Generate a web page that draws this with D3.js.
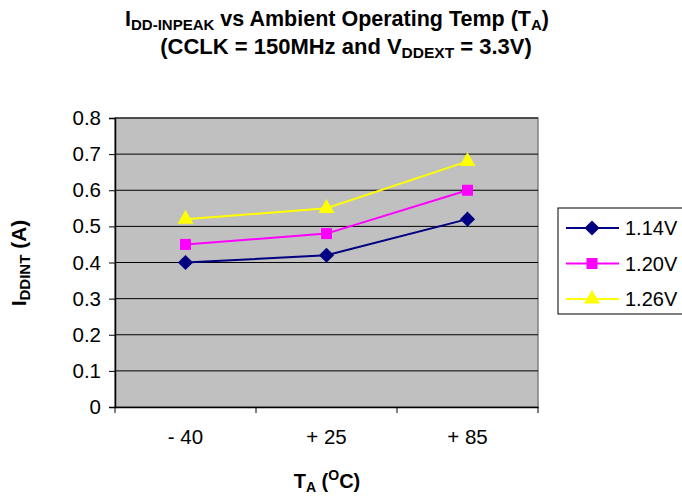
<!DOCTYPE html>
<html><head><meta charset="utf-8">
<script src="https://cdn.jsdelivr.net/npm/d3@7"></script>
<style>body{margin:0;background:#fff;} text{font-family:"Liberation Sans",Arial,sans-serif;}</style>
</head><body><svg id="c" width="682" height="498"></svg>
<script>
const categories = ["- 40", "+ 25", "+ 85"];
const seriesNames = ["1.14V", "1.20V", "1.26V"];
const v114 = [0.40, 0.42, 0.52];
const v120 = [0.45, 0.48, 0.60];
const v126 = [0.52, 0.55, 0.68];
const yTicks = [0, 0.1, 0.2, 0.3, 0.4, 0.5, 0.6, 0.7, 0.8];

const series = [
  {name: seriesNames[0], values: v114, color: "#000080", shape: d3.symbolSquare, size: 115, rot: 45},
  {name: seriesNames[1], values: v120, color: "#FF00FF", shape: d3.symbolSquare, size: 121, rot: 0},
  {name: seriesNames[2], values: v126, color: "#FFFF00", shape: d3.symbolTriangle, size: 110, rot: 0}
];

const svg = d3.select("#c");
const L = 115, R = 538, T = 118, B = 407;
const x = d3.scaleBand().domain(categories).range([L, R]);
const y = d3.scaleLinear().domain([0, 0.8]).range([B, T]);

svg.append("rect").attr("x", L).attr("y", T).attr("width", R - L).attr("height", B - T)
  .attr("fill", "#C0C0C0").attr("stroke", "#808080").attr("stroke-width", 1.5);

svg.append("g").selectAll("line").data(yTicks.filter(d => d > 0)).join("line")
  .attr("x1", L).attr("x2", R).attr("y1", d => y(d)).attr("y2", d => y(d))
  .attr("stroke", "#000").attr("stroke-width", 1);

const ya = svg.append("g").attr("transform", `translate(${L},0)`)
  .call(d3.axisLeft(y).tickValues(yTicks).tickFormat(d => d === 0 ? "0" : d3.format(".1f")(d)).tickSize(6).tickPadding(8));
ya.select(".domain").attr("stroke", "#000").attr("stroke-width", 1.5);
ya.selectAll(".tick line").attr("stroke", "#000");
ya.selectAll("text").attr("font-size", 20.5).attr("fill", "#000").style("font-family", "Liberation Sans, Arial, sans-serif");

const xa = svg.append("g").attr("transform", `translate(0,${B})`)
  .call(d3.axisBottom(x).tickSize(0).tickPadding(22));
xa.select(".domain").attr("stroke", "#000").attr("stroke-width", 1.5);
xa.selectAll("text").attr("font-size", 20.5).attr("fill", "#000").style("font-family", "Liberation Sans, Arial, sans-serif");
const bounds = categories.map(c => x(c)).concat([R]);
svg.append("g").selectAll("line").data(bounds).join("line")
  .attr("x1", d => d).attr("x2", d => d).attr("y1", B).attr("y2", B + 6)
  .attr("stroke", "#000").attr("stroke-width", 1);

const cx = c => x(c) + x.bandwidth() / 2;
const line = d3.line().x((d, i) => cx(categories[i])).y(d => y(d));

series.forEach(s => {
  svg.append("path").datum(s.values).attr("d", line).attr("fill", "none")
    .attr("stroke", s.color).attr("stroke-width", 2);
  svg.append("g").selectAll("path").data(s.values).join("path")
    .attr("d", d3.symbol().type(s.shape).size(s.size))
    .attr("transform", (d, i) => `translate(${cx(categories[i])},${y(d)}) rotate(${s.rot})`)
    .attr("fill", s.color);
});

const lg = svg.append("g");
lg.append("rect").attr("x", 558).attr("y", 208).attr("width", 130).attr("height", 106)
  .attr("fill", "#fff").attr("stroke", "#000").attr("stroke-width", 1);
series.forEach((s, i) => {
  const ly = 228 + i * 35.5;
  lg.append("line").attr("x1", 566).attr("x2", 619).attr("y1", ly).attr("y2", ly)
    .attr("stroke", s.color).attr("stroke-width", 2);
  lg.append("path").attr("d", d3.symbol().type(s.shape).size(s.size)())
    .attr("transform", `translate(592,${ly}) rotate(${s.rot})`).attr("fill", s.color);
  lg.append("text").attr("x", 625).attr("y", ly + 7).attr("font-size", 20).text(s.name);
});

const t1 = svg.append("text").attr("x", 337).attr("y", 26).attr("text-anchor", "middle")
  .attr("font-size", 21.5).attr("font-weight", "bold");
t1.append("tspan").text("I");
t1.append("tspan").attr("font-size", 15).attr("dy", 4).text("DD-INPEAK");
t1.append("tspan").attr("dy", -4).text(" vs Ambient Operating Temp (T");
t1.append("tspan").attr("font-size", 15).attr("dy", 4).text("A");
t1.append("tspan").attr("dy", -4).text(")");

const t2 = svg.append("text").attr("x", 346).attr("y", 54).attr("text-anchor", "middle")
  .attr("font-size", 22).attr("font-weight", "bold");
t2.append("tspan").text("(CCLK = 150MHz and V");
t2.append("tspan").attr("font-size", 15.5).attr("dy", 4).text("DDEXT");
t2.append("tspan").attr("dy", -4).text(" = 3.3V)");

const yt = svg.append("text").attr("transform", "translate(26,263) rotate(-90)").attr("text-anchor", "middle")
  .attr("font-size", 21).attr("font-weight", "bold");
yt.append("tspan").text("I");
yt.append("tspan").attr("font-size", 15).attr("dy", 4).text("DDINT");
yt.append("tspan").attr("dy", -4).text(" (A)");

const xt = svg.append("text").attr("x", 327).attr("y", 488).attr("text-anchor", "middle")
  .attr("font-size", 20).attr("font-weight", "bold");
xt.append("tspan").text("T");
xt.append("tspan").attr("font-size", 14).attr("dy", 4).text("A");
xt.append("tspan").attr("dy", -4).text(" (");
xt.append("tspan").attr("font-size", 14).attr("dy", -8).text("O");
xt.append("tspan").attr("dy", 8).text("C)");
</script></body></html>
